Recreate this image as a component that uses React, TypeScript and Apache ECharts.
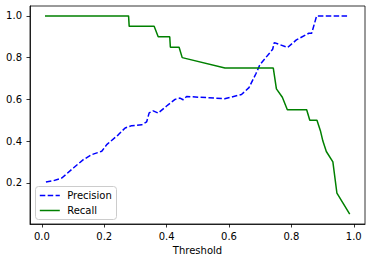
import React, { useEffect, useRef } from "react";
import * as echarts from "echarts";

const precisionPoints: [number, number][] = [
  [0.013, 0.204], [0.037, 0.21], [0.064, 0.223], [0.101, 0.271], [0.133, 0.311],
  [0.16, 0.335], [0.192, 0.351], [0.208, 0.383], [0.245, 0.43], [0.267, 0.463],
  [0.288, 0.474], [0.32, 0.478], [0.336, 0.492], [0.344, 0.535], [0.357, 0.545],
  [0.373, 0.534], [0.4, 0.568], [0.427, 0.6], [0.443, 0.606], [0.453, 0.598],
  [0.464, 0.614], [0.586, 0.603], [0.64, 0.623], [0.664, 0.656], [0.687, 0.725],
  [0.699, 0.766], [0.74, 0.84], [0.745, 0.872], [0.788, 0.849], [0.816, 0.885],
  [0.856, 0.917], [0.865, 0.917], [0.881, 1.0], [0.984, 1.0],
];

const recallPoints: [number, number][] = [
  [0.01, 1.0], [0.278, 1.0], [0.28, 0.95], [0.36, 0.95], [0.373, 0.9], [0.41, 0.9],
  [0.412, 0.85], [0.44, 0.85], [0.45, 0.8], [0.587, 0.75], [0.742, 0.75], [0.752, 0.65],
  [0.771, 0.61], [0.787, 0.55], [0.849, 0.55], [0.859, 0.5], [0.882, 0.5], [0.893, 0.45],
  [0.901, 0.4], [0.912, 0.35], [0.933, 0.3], [0.946, 0.15], [0.987, 0.05],
];

const xTicks = [0, 0.2, 0.4, 0.6, 0.8, 1.0];
const yTicks = [0.2, 0.4, 0.6, 0.8, 1.0];
const seriesNames = ["Precision", "Recall"];

const FONT = "DejaVu Sans";
const BLUE = "#0000ff";
const GREEN = "#008000";
const DASH = [5.5, 2.4];

export default function App() {
  const ref = useRef<HTMLDivElement>(null);
  useEffect(() => {
    if (!ref.current) return;
    const chart = echarts.init(ref.current, undefined, { renderer: "svg" });
    chart.setOption({
      animation: false,
      backgroundColor: "#ffffff",
      grid: {
        left: 30,
        right: 7,
        top: 6,
        bottom: 38,
        show: true,
        borderColor: "#000",
        borderWidth: 0.8,
        backgroundColor: "transparent",
      },
      xAxis: {
        type: "value",
        min: -0.038,
        max: 1.036,
        name: "Threshold",
        nameLocation: "middle",
        nameGap: 21,
        nameTextStyle: { fontFamily: FONT, fontSize: 10, color: "#000" },
        axisLine: { show: true, onZero: false, lineStyle: { color: "#000", width: 0.8 } },
        splitLine: { show: false },
        axisTick: {
          show: true,
          inside: false,
          length: 3.5,
          customValues: xTicks,
          lineStyle: { color: "#000", width: 0.8 },
        },
        axisLabel: {
          customValues: xTicks,
          margin: 7,
          fontFamily: FONT,
          fontSize: 10,
          color: "#000",
          formatter: (v: number) => v.toFixed(1),
        },
      },
      yAxis: {
        type: "value",
        min: 0.0025,
        max: 1.0475,
        axisLine: { show: true, onZero: false, lineStyle: { color: "#000", width: 0.8 } },
        splitLine: { show: false },
        axisTick: {
          show: true,
          inside: false,
          length: 3.5,
          customValues: yTicks,
          lineStyle: { color: "#000", width: 0.8 },
        },
        axisLabel: {
          customValues: yTicks,
          margin: 8,
          fontFamily: FONT,
          fontSize: 10,
          color: "#000",
          formatter: (v: number) => v.toFixed(1),
        },
      },
      graphic: [
        {
          type: "group",
          left: 35,
          top: 186,
          z: 100,
          children: [
            {
              type: "rect",
              shape: { x: 0, y: 0, width: 81, height: 33, r: 3 },
              style: { fill: "rgba(255,255,255,0.8)", stroke: "#cccccc", lineWidth: 1 },
            },
            {
              type: "line",
              shape: { x1: 4.3, y1: 9, x2: 24.3, y2: 9 },
              style: { stroke: BLUE, lineWidth: 1.5, lineDash: DASH },
            },
            {
              type: "line",
              shape: { x1: 4.3, y1: 24, x2: 24.3, y2: 24 },
              style: { stroke: GREEN, lineWidth: 1.5 },
            },
            {
              type: "text",
              x: 31.7,
              y: 9,
              style: {
                text: seriesNames[0],
                fontFamily: FONT,
                fontSize: 10,
                fill: "#000",
                verticalAlign: "middle",
              },
            },
            {
              type: "text",
              x: 31.7,
              y: 24,
              style: {
                text: seriesNames[1],
                fontFamily: FONT,
                fontSize: 10,
                fill: "#000",
                verticalAlign: "middle",
              },
            },
          ],
        },
      ],
      series: [
        {
          name: seriesNames[0],
          type: "line",
          data: precisionPoints,
          showSymbol: false,
          symbol: "none",
          lineStyle: { color: BLUE, width: 1.5, type: DASH },
          itemStyle: { color: BLUE },
        },
        {
          name: seriesNames[1],
          type: "line",
          data: recallPoints,
          showSymbol: false,
          symbol: "none",
          lineStyle: { color: GREEN, width: 1.5 },
          itemStyle: { color: GREEN },
        },
      ],
    });
    return () => chart.dispose();
  }, []);
  return (
    <div
      ref={ref}
      style={{ position: "fixed", left: 0, top: 0, width: 372, height: 262, background: "#fff" }}
    />
  );
}
